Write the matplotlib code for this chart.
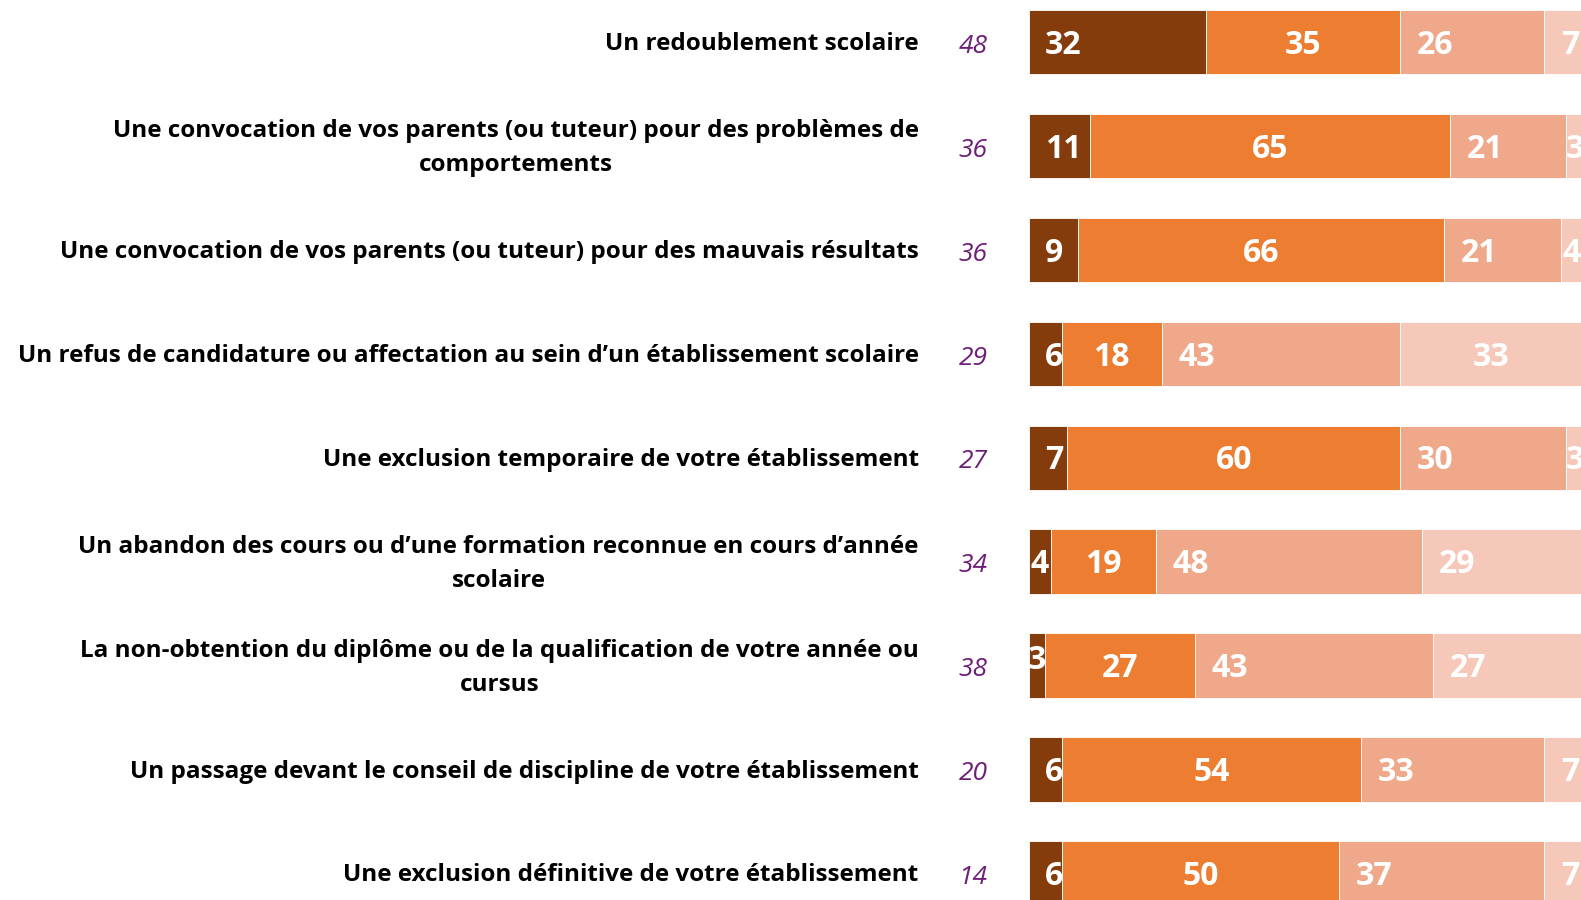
import numpy as np
import matplotlib.pyplot as plt

# ========================================
# Data
# ========================================

categories = [
    "Un redoublement scolaire",
    "Une convocation de vos parents (ou tuteur) pour des problèmes de\ncomportements",
    "Une convocation de vos parents (ou tuteur) pour des mauvais résultats",
    "Un refus de candidature ou affectation au sein d’un établissement scolaire",
    "Une exclusion temporaire de votre établissement",
    "Un abandon des cours ou d’une formation reconnue en cours d’année\nscolaire",
    "La non-obtention du diplôme ou de la qualification de votre année ou\ncursus",
    "Un passage devant le conseil de discipline de votre établissement",
    "Une exclusion définitive de votre établissement",
]
base_counts = [48, 36, 36, 29, 27, 34, 38, 20, 14]

seg_very = [32, 11, 9, 6, 7, 4, 3, 6, 6]
seg_rather = [35, 65, 66, 18, 60, 19, 27, 54, 50]
seg_little = [26, 21, 21, 43, 30, 48, 43, 33, 37]
seg_none = [7, 3, 4, 33, 3, 29, 27, 7, 7]

colors = ["#843C0C", "#ED7D31", "#F0A88A", "#F5C8B9"]

# ========================================
# Figure
# ========================================

fig = plt.figure(figsize=(15.81, 9), dpi=100)
ax = fig.add_axes([1028.5 / 1581, 0, 554.6 / 1581, 1])
ax.set_xlim(0, 100)
ax.set_ylim(8.257, -0.407)
ax.axis("off")

y = np.arange(len(categories))
series = [seg_very, seg_rather, seg_little, seg_none]
left = np.zeros(len(categories))

for s, (vals, col) in enumerate(zip(series, colors)):
    vals = np.array(vals, dtype=float)
    ax.barh(y, vals, left=left, height=0.62, color=col,
            edgecolor="white", linewidth=0.6)
    for i, v in enumerate(vals):
        dy = 0
        if s == 1 or v < 5:
            x, ha = left[i] + v / 2, "center"
        elif s == 3 and i == 3:
            x, ha = left[i] + v / 2, "center"
        else:
            x, ha = left[i] + 3, "left"
        if s == 0 and i == 6:
            dy = -0.08
        ax.text(x, y[i] + 0.03 + dy, f"{int(v)}", ha=ha, va="center",
                color="white", fontsize=23, fontweight="bold",
                family="Open Sans", clip_on=False)
    left += vals

for i, (cat, n) in enumerate(zip(categories, base_counts)):
    ax.text(-19.8, y[i] + 0.02, cat, ha="right", va="center",
            multialignment="center", fontsize=17.5, fontweight="bold",
            family="Open Sans", color="black", linespacing=1.55,
            clip_on=False)
    ax.text(-10.0, y[i] + 0.04, f"{n}", ha="center", va="center",
            fontsize=19, style="italic", family="Open Sans",
            color="#6E1E78", clip_on=False)

fig.savefig("out.png", dpi=100)
